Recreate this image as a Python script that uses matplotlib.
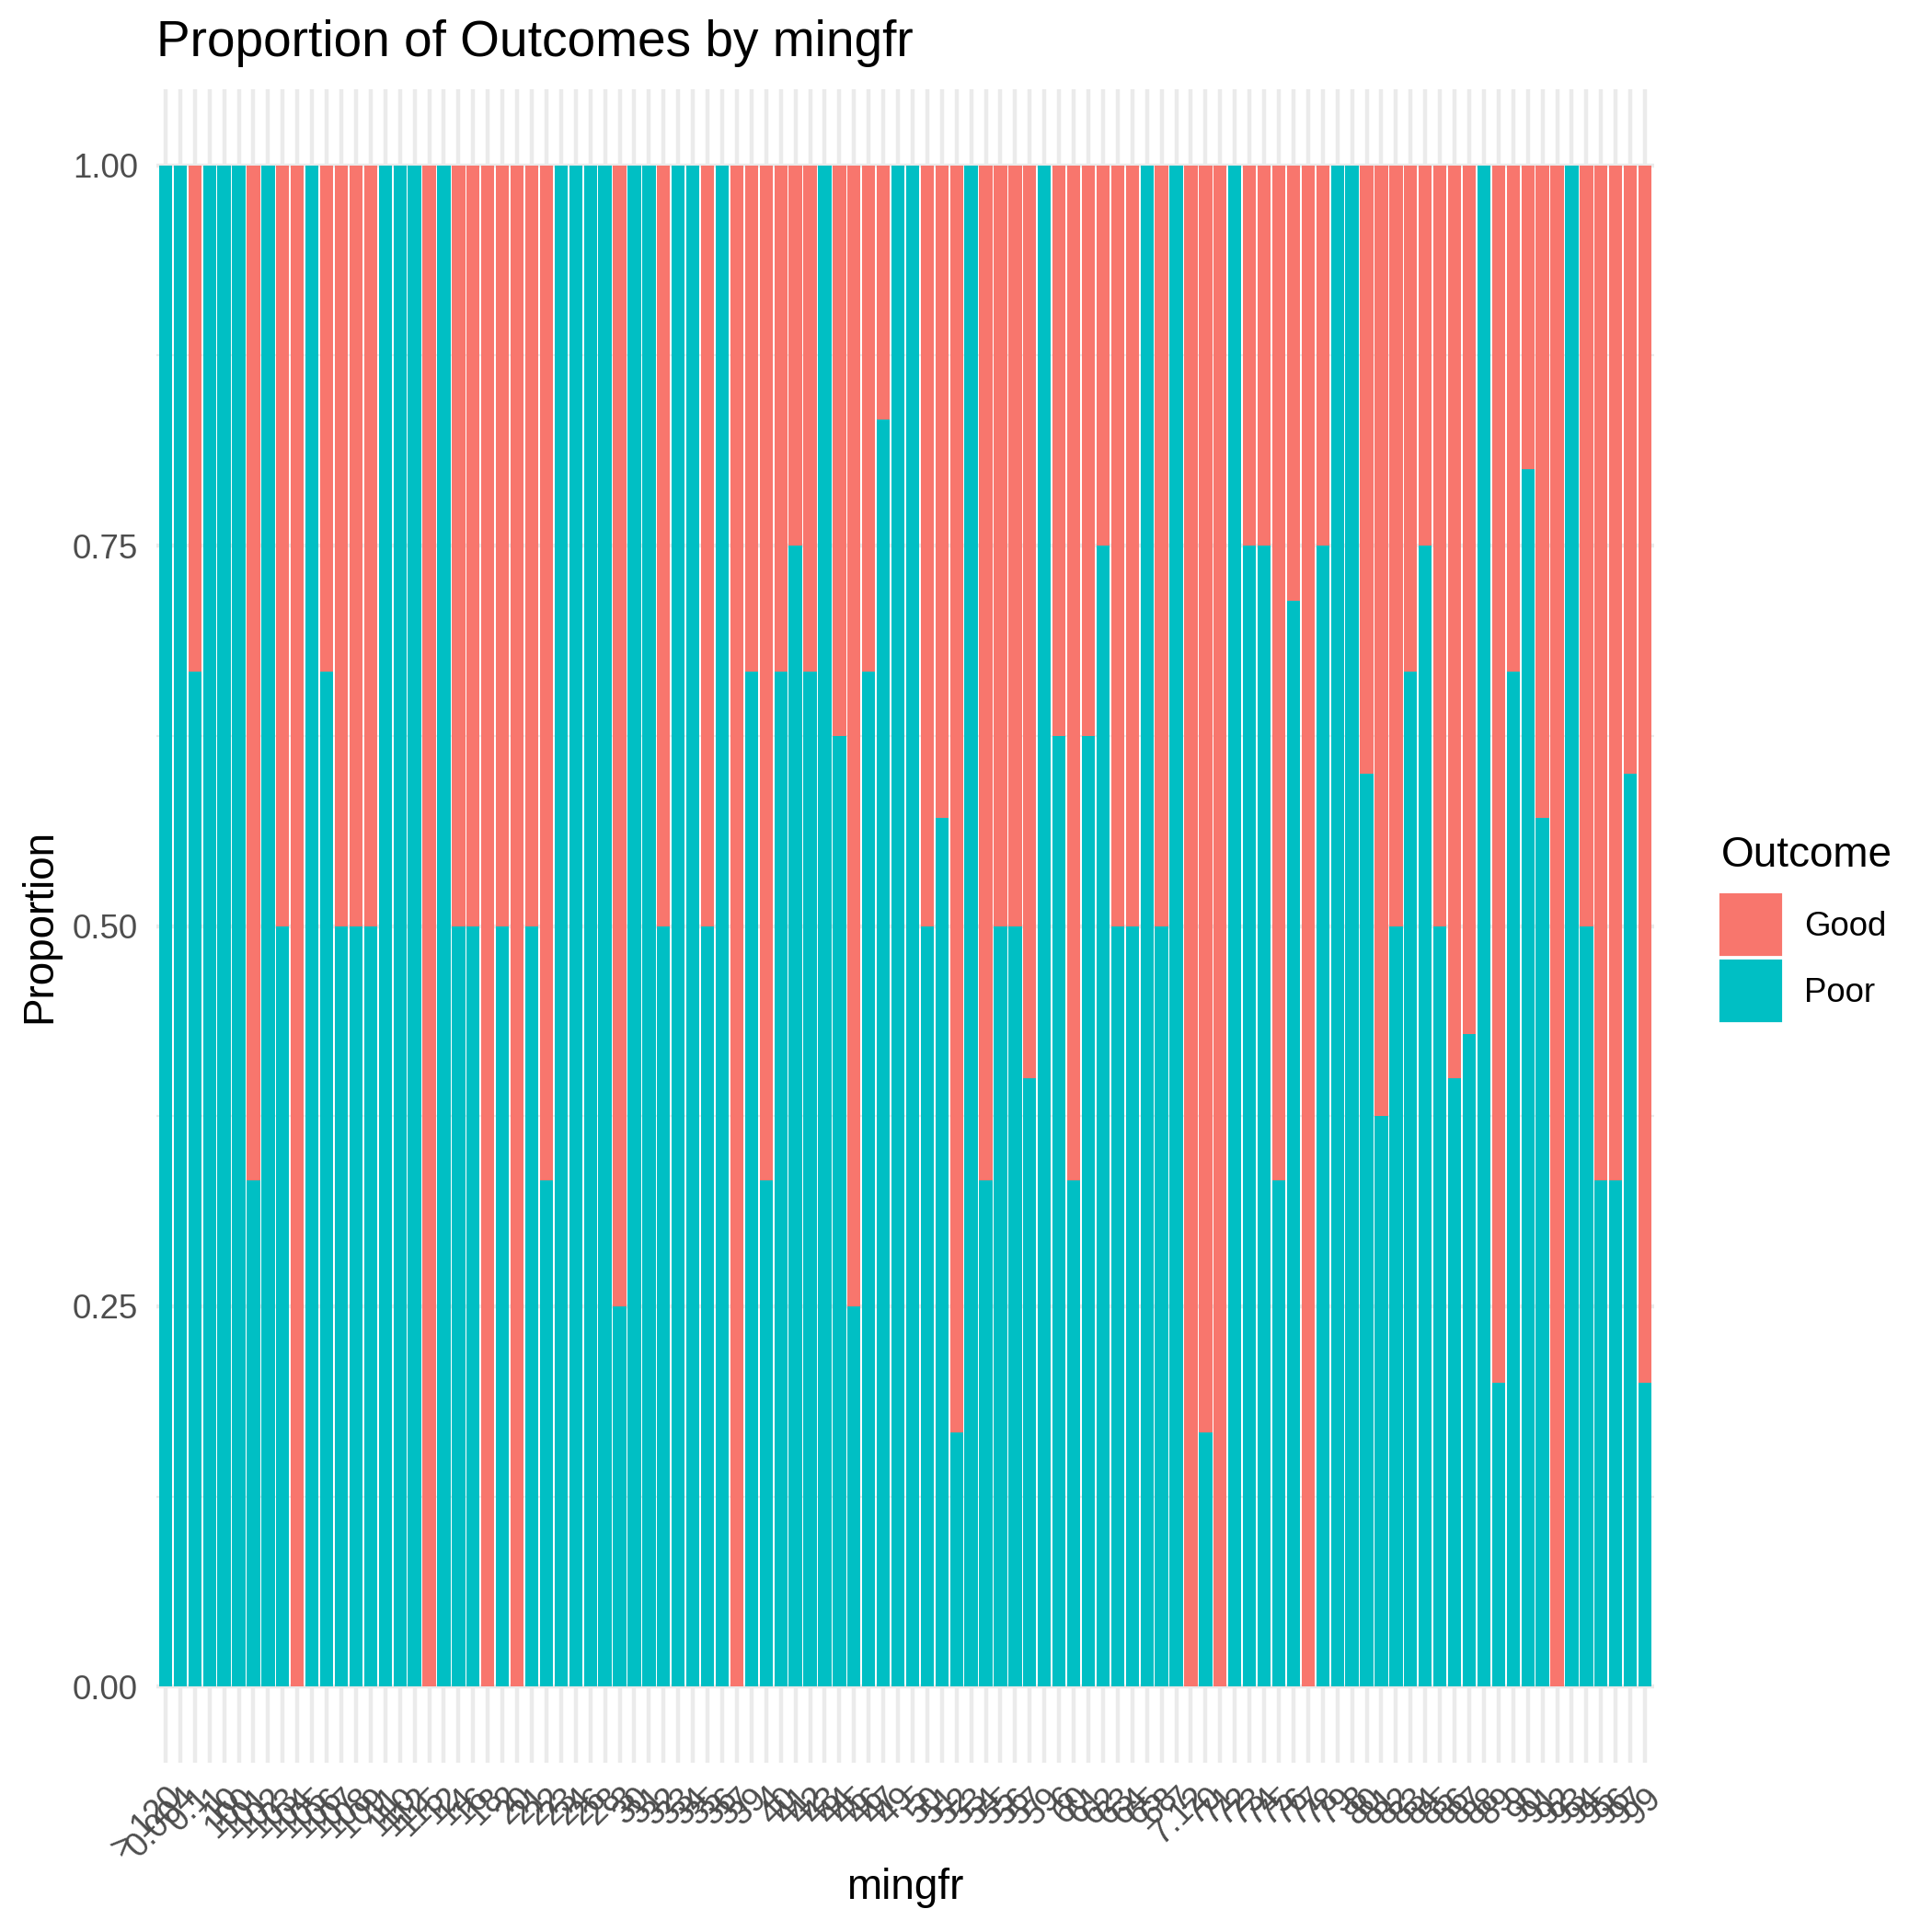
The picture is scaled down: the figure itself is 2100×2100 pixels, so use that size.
import matplotlib
matplotlib.use('Agg')
import matplotlib.pyplot as plt
import numpy as np
from matplotlib.patches import Patch

plt.rcParams['font.family'] = ['Liberation Sans', 'DejaVu Sans']

# mingfr categories (string-sorted, as on the x axis)
labels = ['> 120', '0.004', '0.1',
          '1', '10', '100', '101', '102', '103', '104', '105', '106', '107',
          '108', '109', '11', '110', '112', '115', '12', '14', '16', '18',
          '2', '20', '21', '22', '23', '24', '26', '28',
          '3', '30', '31', '32', '33', '34', '35', '36', '37', '39',
          '4', '40', '41', '42', '43', '44', '45', '46', '47', '49',
          '5', '50', '51', '52', '53', '54', '55', '56', '57', '59',
          '6', '60', '61', '62', '63', '64', '65', '68',
          '7', '7.12', '70', '71', '72', '73', '74', '75', '76', '77', '78', '79',
          '8', '80', '81', '82', '83', '84', '85', '86', '87', '88', '89',
          '9', '90', '91', '92', '93', '94', '95', '96', '97', '99']

# proportion of Poor outcome per category (Good = remainder)
poor = [1, 1, 0.667, 1, 1, 1, 0.333, 1, 0.5, 0,
        1, 0.667, 0.5, 0.5, 0.5, 1, 1, 1, 0, 1,
        0.5, 0.5, 0, 0.5, 0, 0.5, 0.333, 1, 1, 1,
        1, 0.25, 1, 1, 0.5, 1, 1, 0.5, 1, 0,
        0.667, 0.333, 0.667, 0.75, 0.667, 1, 0.625, 0.25, 0.667, 0.833,
        1, 1, 0.5, 0.571, 0.167, 1, 0.333, 0.5, 0.5, 0.4,
        1, 0.625, 0.333, 0.625, 0.75, 0.5, 0.5, 1, 0.5, 1,
        0, 0.167, 0, 1, 0.75, 0.75, 0.333, 0.714, 0, 0.75,
        1, 1, 0.6, 0.375, 0.5, 0.667, 0.75, 0.5, 0.4, 0.429,
        1, 0.2, 0.667, 0.8, 0.571, 0, 1, 0.5, 0.333, 0.333,
        0.6, 0.2]

good_col = '#F8766D'
poor_col = '#00BFC4'
W = H = 2100

poor = np.array(poor)
good = 1 - poor
n = len(labels)
x = np.arange(n)

fig = plt.figure(figsize=(7, 7), dpi=300)
left, right, top, bottom = 170.4, 1797.6, 97, 1916
ax = fig.add_axes([left / W, 1 - bottom / H, (right - left) / W, (bottom - top) / H])

ax.bar(x, poor, width=0.9, color=poor_col, zorder=2)
ax.bar(x, good, bottom=poor, width=0.9, color=good_col, zorder=2)

ax.set_xlim(-0.6, n - 1 + 0.6)
ax.set_ylim(-0.05, 1.05)
ax.set_yticks([0, 0.25, 0.5, 0.75, 1.0])
ax.set_yticklabels(['0.00', '0.25', '0.50', '0.75', '1.00'])
ax.set_yticks([0.125, 0.375, 0.625, 0.875], minor=True)
ax.set_xticks(x)
ax.set_xticklabels(labels, rotation=45, ha='right', va='top', rotation_mode='anchor')

ax.set_axisbelow(True)
ax.grid(which='major', color='#EBEBEB', linewidth=1.07)
ax.grid(which='minor', axis='y', color='#EBEBEB', linewidth=0.53)
for s in ax.spines.values():
    s.set_visible(False)
ax.tick_params(which='both', length=0)
ax.tick_params(axis='y', pad=4.95, labelsize=8.8, labelcolor='#4D4D4D')
ax.tick_params(axis='x', pad=4.95, labelsize=8.8, labelcolor='#4D4D4D')

fig.text(left / W, 1 - 47 / H, 'Proportion of Outcomes by mingfr', fontsize=13.2,
         ha='left', va='center')
fig.text(43 / W, 1 - 1006 / H, 'Proportion', fontsize=11, rotation=90,
         ha='center', va='center')
fig.text(984 / W, 1 - 2052 / H, 'mingfr', fontsize=11, ha='center', va='center')

handles = [Patch(color=good_col, label='Good'), Patch(color=poor_col, label='Poor')]
leg = fig.legend(handles=handles, title='Outcome', loc='upper left',
                 bbox_to_anchor=(1871 / W, 1 - 908 / H), frameon=False,
                 fontsize=8.8, title_fontsize=11, borderpad=0, borderaxespad=0,
                 handlelength=1.745, handleheight=2.31, handletextpad=0.7,
                 labelspacing=0.22, alignment='left')
# a bit more room between the legend title and the keys
leg._legend_box.sep = 5.1

fig.savefig('out.png', dpi=300)
